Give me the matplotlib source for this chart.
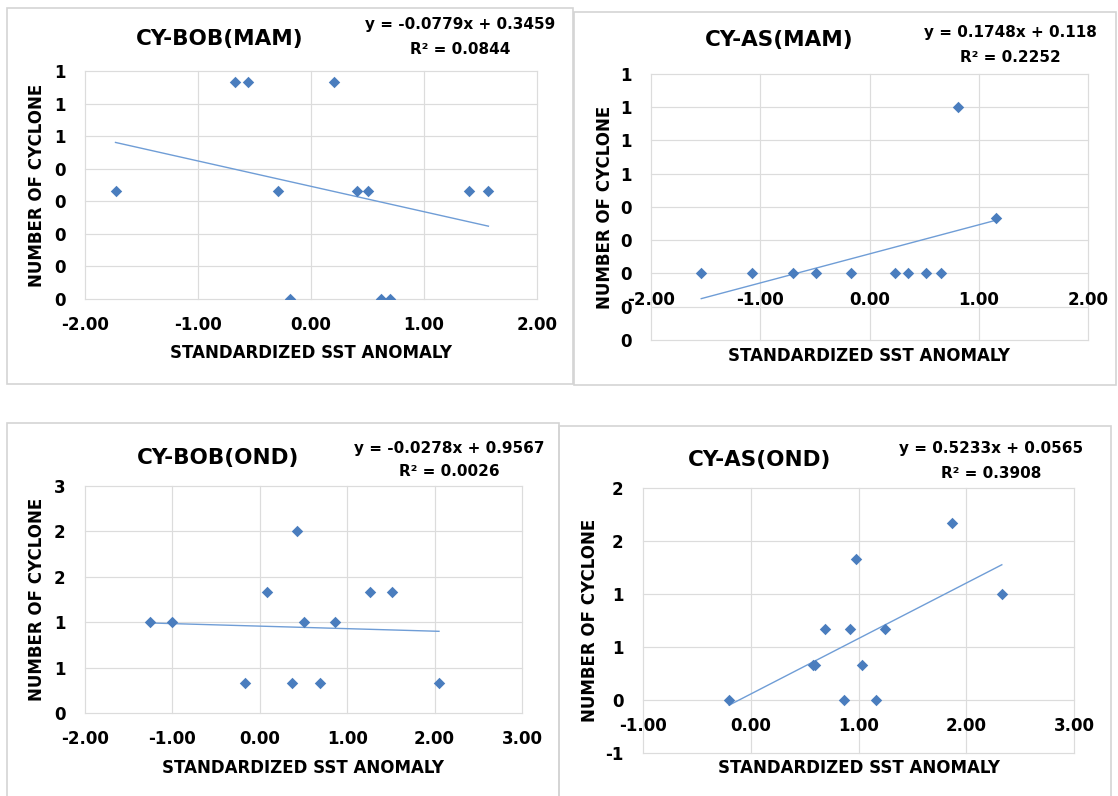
import matplotlib

matplotlib.use("Agg")
import matplotlib.pyplot as plt
from matplotlib.patches import Rectangle

W, H = 1118, 796

# ---- data ----
bob_mam_x = [-1.73, -0.67, -0.56, 0.20, -0.29, -0.19, 0.41, 0.50, 0.62, 0.70, 1.40, 1.57]
bob_mam_y = [0.333, 0.667, 0.667, 0.667, 0.333, 0.0, 0.333, 0.333, 0.0, 0.0, 0.333, 0.333]

as_mam_x = [-1.54, -1.08, -0.70, -0.49, -0.17, 0.23, 0.35, 0.52, 0.65, 0.81, 1.16]
as_mam_y = [0.0, 0.0, 0.0, 0.0, 0.0, 0.0, 0.0, 0.0, 0.0, 1.0, 0.333]

bob_ond_x = [-1.26, -1.01, -0.17, 0.08, 0.37, 0.43, 0.51, 0.69, 0.86, 1.26, 1.51, 2.05]
bob_ond_y = [1.0, 1.0, 0.333, 1.333, 0.333, 2.0, 1.0, 0.333, 1.0, 1.333, 1.333, 0.333]

as_ond_x = [-0.20, 0.58, 0.60, 0.69, 0.87, 0.92, 0.98, 1.03, 1.16, 1.25, 1.87, 2.33]
as_ond_y = [0.0, 0.333, 0.333, 0.667, 0.0, 0.667, 1.333, 0.333, 0.0, 0.667, 1.667, 1.0]

titles = ["CY-BOB(MAM)", "CY-AS(MAM)", "CY-BOB(OND)", "CY-AS(OND)"]
slopes = [-0.0779, 0.1748, -0.0278, 0.5233]
intercepts = [0.3459, 0.118, 0.9567, 0.0565]
equations = ["y = -0.0779x + 0.3459", "y = 0.1748x + 0.118",
             "y = -0.0278x + 0.9567", "y = 0.5233x + 0.0565"]
r_squared = ["R² = 0.0844", "R² = 0.2252", "R² = 0.0026", "R² = 0.3908"]

x_ticks = [[-2, -1, 0, 1, 2], [-2, -1, 0, 1, 2], [-2, -1, 0, 1, 2, 3], [-1, 0, 1, 2, 3]]
y_ticks = [[0, 0.1, 0.2, 0.3, 0.4, 0.5, 0.6, 0.7],
           [-0.4, -0.2, 0, 0.2, 0.4, 0.6, 0.8, 1.0, 1.2],
           [0, 0.5, 1.0, 1.5, 2.0, 2.5],
           [-0.5, 0, 0.5, 1.0, 1.5, 2.0]]
y_ticklabels = [["0", "0", "0", "0", "0", "1", "1", "1"],
                ["0", "0", "0", "0", "0", "1", "1", "1", "1"],
                ["0", "1", "1", "2", "2", "3"],
                ["-1", "0", "1", "1", "2", "2"]]

series = [(bob_mam_x, bob_mam_y), (as_mam_x, as_mam_y),
          (bob_ond_x, bob_ond_y), (as_ond_x, as_ond_y)]

# ---- layout in pixels (left, top, right, bottom) ----
plot_boxes = [(85, 71, 537, 299), (651, 74, 1088, 340),
              (85, 486, 522, 713), (643, 488, 1074, 753)]
frame_boxes = [(7, 8, 573, 384), (574, 12, 1116, 385),
               (7, 423, 559, 805), (559, 426, 1111, 805)]
title_pos = [(220, 39), (779, 40), (218, 458), (760, 460)]
eq_pos = [(460, 25, 49), (1010, 32, 57), (449, 448, 472), (991, 449, 474)]
xlabel_y = [353, 356, 768, 768]
ylabel_x = [37, 605, 37, 590]

MARK = "#4A7DBE"
LINE = "#6F9DD6"
GRID = "#DCDCDC"

plt.rcParams["font.family"] = "DejaVu Sans"
plt.rcParams["font.weight"] = "bold"

fig = plt.figure(figsize=(W / 100, H / 100), dpi=100)


def fig_rect(box):
    l, t, r, b = box
    return [l / W, 1 - b / H, (r - l) / W, (b - t) / H]


for fb in frame_boxes:
    x0, y0, w, h = fig_rect(fb)
    fig.patches.append(Rectangle((x0, y0), w, h, transform=fig.transFigure,
                                 fill=False, ec="#D4D4D4", lw=1.2))

for i, (xs, ys) in enumerate(series):
    ax = fig.add_axes(fig_rect(plot_boxes[i]))
    ax.set_xlim(x_ticks[i][0], x_ticks[i][-1])
    ax.set_ylim(y_ticks[i][0], y_ticks[i][-1])
    ax.set_xticks(x_ticks[i])
    ax.set_xticklabels([f"{v:.2f}" for v in x_ticks[i]])
    ax.set_yticks(y_ticks[i])
    ax.set_yticklabels(y_ticklabels[i])
    ax.grid(True, color=GRID, lw=0.85, clip_on=False)
    ax.set_axisbelow(True)
    for s in ax.spines.values():
        s.set_visible(False)
    if y_ticks[i][0] < 0:
        # horizontal axis crosses at y = 0, labels sit there
        ax.spines["bottom"].set_position(("data", 0))
    ax.tick_params(length=0, labelsize=12, colors="black")
    ax.tick_params(axis="x", pad=12.5)
    ax.tick_params(axis="y", pad=14)
    for lab in ax.get_xticklabels() + ax.get_yticklabels():
        lab.set_fontweight("bold")

    ax.scatter(xs, ys, marker="D", s=34, color=MARK, zorder=3, linewidths=0)
    lo, hi = min(xs), max(xs)
    ax.plot([lo, hi], [slopes[i] * lo + intercepts[i], slopes[i] * hi + intercepts[i]],
            color=LINE, lw=1.0, zorder=2)

    tx, ty = title_pos[i]
    fig.text(tx / W, 1 - ty / H, titles[i], ha="center", va="center",
             fontsize=15.5, fontweight="bold")
    ex, ey1, ey2 = eq_pos[i]
    fig.text(ex / W, 1 - ey1 / H, equations[i], ha="center", va="center",
             fontsize=11, fontweight="bold")
    fig.text(ex / W, 1 - ey2 / H, r_squared[i], ha="center", va="center",
             fontsize=11, fontweight="bold")
    l, t, r, b = plot_boxes[i]
    fig.text((l + r) / 2 / W, 1 - xlabel_y[i] / H, "STANDARDIZED SST ANOMALY",
             ha="center", va="center", fontsize=12, fontweight="bold")
    fig.text(ylabel_x[i] / W, 1 - (t + b) / 2 / H, "NUMBER OF CYCLONE",
             ha="center", va="center", rotation=90, fontsize=12, fontweight="bold")

fig.savefig("out.png", dpi=100, facecolor="white")
